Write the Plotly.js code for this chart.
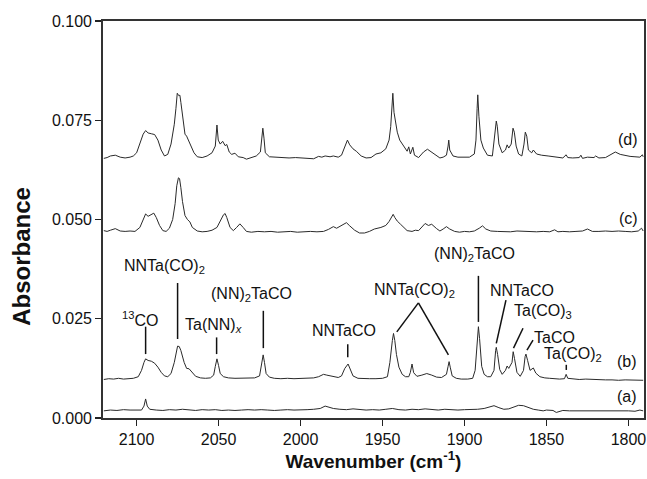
<!DOCTYPE html>
<html>
<head>
<meta charset="utf-8">
<script src="https://cdn.plot.ly/plotly-3.0.1.min.js"></script>
<style>html,body{margin:0;padding:0;background:#fff}#chart{width:647px;height:479px}</style>
</head>
<body>
<div id="chart"></div>
<script>
// ---- data ----
const wnA = [2120,2116,2112,2108,2104,2100,2097,2095.5,2094.5,2093.5,2092,2088,2084,2080,2076,2072,2068,2064,2060,2056,2052,2048,2044,2040,2036,2032,2028,2024,2020,2016,2012,2008,2004,2000,1996,1992,1988,1985,1983,1980,1976,1972,1968,1964,1960,1956,1952,1948,1944,1940,1936,1932,1928,1924,1920,1916,1912,1908,1904,1900,1896,1892,1888,1885,1882,1879,1876,1873,1870,1867,1864,1861,1858,1855,1852,1850,1846,1844,1840,1836,1832,1828,1824,1820,1816,1812,1808,1804,1800,1796,1793,1791];
const absA = [0.0018,0.0020,0.0019,0.0021,0.0020,0.0019,0.0020,0.0030,0.0048,0.0030,0.0022,0.0020,0.0019,0.0021,0.0020,0.0022,0.0020,0.0019,0.0021,0.0020,0.0021,0.0019,0.0020,0.0019,0.0020,0.0021,0.0020,0.0021,0.0020,0.0019,0.0020,0.0021,0.0020,0.0020,0.0021,0.0022,0.0024,0.0030,0.0028,0.0024,0.0022,0.0021,0.0023,0.0021,0.0020,0.0021,0.0020,0.0022,0.0024,0.0021,0.0020,0.0022,0.0021,0.0023,0.0021,0.0020,0.0022,0.0021,0.0020,0.0021,0.0021,0.0022,0.0024,0.0028,0.0031,0.0026,0.0022,0.0023,0.0028,0.0032,0.0031,0.0027,0.0022,0.0020,0.0018,0.0020,0.0019,0.0014,0.0019,0.0018,0.0018,0.0019,0.0018,0.0019,0.0018,0.0018,0.0019,0.0018,0.0018,0.0017,0.0020,0.0018];

const wnB = [2120,2117,2114,2111,2108,2105,2102,2099,2097,2095.5,2094.5,2093,2091,2089,2087,2085,2083,2081,2079,2077,2075.5,2075,2074,2073,2071,2069.5,2068,2066,2064,2061,2058,2055,2053,2052,2051,2050,2049,2047,2044,2040,2036,2032,2028,2025,2023.8,2022.8,2022,2021,2019,2016,2012,2008,2004,2000,1996,1992,1989,1986,1984,1982,1980,1977,1975,1973,1971,1969.5,1968,1965,1962,1958,1954,1950,1947,1945.5,1944,1943.3,1942.5,1941.5,1940,1938,1936,1934,1933,1932,1931,1929,1926,1923,1920,1917,1914,1911,1910,1909.4,1908.7,1907.5,1905,1902,1898,1895,1893.5,1892.2,1891.5,1890.8,1889.5,1888,1886,1884,1882,1881,1880.6,1879.8,1878.5,1877,1875,1874,1873,1871,1870.3,1869.5,1868,1866,1864,1863,1862.5,1861.5,1860,1858,1856.5,1854,1851,1848,1845,1842,1839,1838,1837,1834,1830,1826,1822,1818,1814,1810,1806,1802,1798,1794,1791];
const absB = [0.0097,0.0099,0.0098,0.0100,0.0098,0.0099,0.0100,0.0104,0.0120,0.0140,0.0149,0.0145,0.0143,0.0138,0.0128,0.0115,0.0106,0.0104,0.0112,0.0140,0.0175,0.0181,0.0180,0.0170,0.0140,0.0125,0.0124,0.0113,0.0105,0.0101,0.0100,0.0101,0.0108,0.0130,0.0149,0.0132,0.0112,0.0104,0.0101,0.0100,0.0100,0.0101,0.0101,0.0106,0.0135,0.0159,0.0140,0.0112,0.0103,0.0100,0.0099,0.0100,0.0099,0.0100,0.0100,0.0101,0.0104,0.0110,0.0108,0.0106,0.0104,0.0102,0.0106,0.0125,0.0136,0.0122,0.0106,0.0100,0.0099,0.0099,0.0099,0.0100,0.0104,0.0140,0.0195,0.0213,0.0195,0.0160,0.0128,0.0110,0.0104,0.0104,0.0115,0.0136,0.0114,0.0105,0.0108,0.0112,0.0108,0.0103,0.0102,0.0110,0.0130,0.0142,0.0128,0.0106,0.0100,0.0098,0.0098,0.0100,0.0120,0.0200,0.0230,0.0200,0.0130,0.0110,0.0104,0.0104,0.0120,0.0170,0.0178,0.0160,0.0122,0.0110,0.0120,0.0131,0.0125,0.0140,0.0167,0.0150,0.0115,0.0105,0.0120,0.0155,0.0161,0.0145,0.0120,0.0126,0.0113,0.0104,0.0101,0.0100,0.0099,0.0098,0.0099,0.0110,0.0100,0.0099,0.0097,0.0098,0.0097,0.0097,0.0096,0.0096,0.0095,0.0096,0.0095,0.0094,0.0095];

const wnC = [2120,2118,2116,2113,2110,2107,2104,2101,2098,2096,2094.5,2093,2091.5,2089.5,2088,2086,2084,2082,2080,2078,2076.5,2075.5,2074.5,2073.8,2073,2072,2070.5,2069,2067.5,2066,2063,2060,2057,2054,2051,2049,2047,2046,2045,2043,2041,2039,2037,2035,2033,2030,2026,2022,2018,2014,2010,2006,2002,1998,1994,1990,1986,1983,1980,1978,1975,1972,1970,1967,1964,1961,1958,1955,1951,1948,1946,1944.5,1943.5,1942.5,1941,1939,1937,1935,1932,1930,1928,1926,1924,1922,1920,1917,1915,1913,1911,1909,1906,1903,1900,1897,1894,1891,1889,1887,1884,1880,1876,1872,1868,1864,1860,1856,1852,1848,1845,1843,1840,1836,1832,1828,1825,1822,1818,1814,1810,1806,1802,1798,1794,1792,1791];
const absC = [0.0472,0.0470,0.0473,0.0477,0.0471,0.0470,0.0471,0.0470,0.0480,0.0500,0.0514,0.0508,0.0512,0.0516,0.0505,0.0485,0.0472,0.0470,0.0478,0.0500,0.0540,0.0585,0.0605,0.0603,0.0580,0.0545,0.0510,0.0500,0.0494,0.0480,0.0471,0.0469,0.0470,0.0473,0.0480,0.0495,0.0512,0.0515,0.0505,0.0480,0.0472,0.0480,0.0489,0.0480,0.0470,0.0468,0.0470,0.0469,0.0470,0.0468,0.0469,0.0470,0.0468,0.0469,0.0470,0.0469,0.0470,0.0475,0.0482,0.0478,0.0485,0.0492,0.0484,0.0473,0.0466,0.0466,0.0470,0.0476,0.0480,0.0485,0.0495,0.0505,0.0513,0.0505,0.0496,0.0488,0.0480,0.0472,0.0470,0.0473,0.0472,0.0480,0.0490,0.0485,0.0488,0.0477,0.0471,0.0476,0.0482,0.0476,0.0470,0.0468,0.0470,0.0469,0.0471,0.0478,0.0484,0.0476,0.0471,0.0470,0.0469,0.0469,0.0471,0.0470,0.0470,0.0469,0.0470,0.0469,0.0474,0.0469,0.0470,0.0469,0.0470,0.0471,0.0476,0.0470,0.0470,0.0471,0.0470,0.0471,0.0470,0.0469,0.0471,0.0478,0.0471];

const wnD = [2120,2118,2116,2113,2110,2107,2104,2102,2100,2098,2096,2094.5,2093,2091,2089,2087,2085,2083,2081,2079,2077,2076,2075.2,2074.3,2073.6,2073,2072,2070.5,2069.5,2068.5,2067,2065,2063,2060,2057,2054,2052,2051,2050.2,2049,2047.5,2046,2045,2043.5,2042,2040,2038,2035,2033,2030,2027,2024.5,2023.6,2023,2022.3,2021.5,2019,2015,2011,2007,2003,1999,1995,1992,1989,1987,1985,1982,1980,1977,1975,1973,1971.4,1970,1968,1966,1963,1960,1957,1954,1951,1948,1946,1945,1944.2,1943.7,1943,1942,1941,1939.5,1937,1935,1934,1933,1931.5,1930.5,1928,1925,1922.6,1920,1917,1915,1913,1911,1910,1909.6,1909,1907,1904,1900,1897,1894,1893,1892.3,1891.9,1891.2,1890,1888.5,1886,1883,1881.8,1881,1880.6,1880,1879,1877,1875,1874,1873,1871.5,1870.4,1869.6,1868.5,1867,1865,1863.7,1862.9,1862,1861,1859,1858,1856,1853,1849,1846,1843,1840,1838,1837,1834,1830,1829,1828,1825,1821,1820,1818,1814,1811,1808,1805,1802,1799,1796,1793,1791.5,1791];
const absD = [0.0654,0.0656,0.0660,0.0662,0.0657,0.0655,0.0657,0.0660,0.0668,0.0690,0.0715,0.0724,0.0718,0.0716,0.0714,0.0700,0.0675,0.0660,0.0664,0.0690,0.0740,0.0780,0.0818,0.0812,0.0813,0.0795,0.0760,0.0715,0.0710,0.0700,0.0685,0.0668,0.0658,0.0656,0.0660,0.0668,0.0685,0.0738,0.0700,0.0690,0.0697,0.0686,0.0689,0.0670,0.0664,0.0667,0.0658,0.0656,0.0652,0.0657,0.0660,0.0670,0.0710,0.0730,0.0705,0.0668,0.0658,0.0657,0.0656,0.0655,0.0656,0.0655,0.0655,0.0653,0.0659,0.0657,0.0660,0.0658,0.0660,0.0657,0.0662,0.0685,0.0700,0.0688,0.0678,0.0672,0.0660,0.0655,0.0656,0.0665,0.0668,0.0678,0.0700,0.0734,0.0790,0.0818,0.0770,0.0747,0.0720,0.0700,0.0683,0.0672,0.0683,0.0665,0.0682,0.0662,0.0656,0.0670,0.0677,0.0670,0.0660,0.0655,0.0657,0.0662,0.0685,0.0700,0.0675,0.0660,0.0657,0.0658,0.0657,0.0665,0.0700,0.0780,0.0814,0.0760,0.0700,0.0680,0.0662,0.0660,0.0700,0.0740,0.0748,0.0735,0.0690,0.0668,0.0675,0.0688,0.0680,0.0690,0.0730,0.0720,0.0685,0.0665,0.0660,0.0690,0.0720,0.0710,0.0675,0.0668,0.0675,0.0665,0.0662,0.0660,0.0658,0.0656,0.0655,0.0663,0.0656,0.0655,0.0656,0.0662,0.0654,0.0657,0.0656,0.0660,0.0655,0.0656,0.0664,0.0670,0.0664,0.0661,0.0659,0.0658,0.0657,0.0663,0.0658];

const traceLabels = ['(a)','(b)','(c)','(d)'];
const traceLabelPos = [[1800.9,0.0054],[1800.9,0.0142],[1800,0.0503],[1800,0.0702]];

// peak labels: text, text position, leader lines [x0,y0,x1,y1]
const peakTexts = ['<sup>13</sup>CO','NNTa(CO)<sub>2</sub>','Ta(NN)<sub><i>x</i></sub>','(NN)<sub>2</sub>TaCO','NNTaCO','NNTa(CO)<sub>2</sub>','(NN)<sub>2</sub>TaCO','NNTaCO','Ta(CO)<sub>3</sub>','TaCO','Ta(CO)<sub>2</sub>'];
const peakTextPos = [[2098,0.0249],[2082.7,0.0382],[2052.8,0.0234],[2030.2,0.0312],[1973.4,0.0220],[1930.7,0.0322],[1894,0.0413],[1865,0.0322],[1852,0.0268],[1845.3,0.0203],[1834,0.0161]];
const leaderLines = [
  [2094.5,0.0230,2094.5,0.0161],
  [2075.0,0.0340,2075.0,0.0199],
  [2051.2,0.0203,2051.2,0.0161],
  [2022.7,0.0270,2022.7,0.0176],
  [1971.2,0.0186,1971.2,0.0153],
  [1928.1,0.0290,1941.3,0.0217],
  [1928.1,0.0290,1909.8,0.0159],
  [1891.5,0.0358,1891.5,0.0242],
  [1874.7,0.0297,1880.6,0.0188],
  [1864.3,0.0226,1870.1,0.0176],
  [1858.2,0.0196,1861.9,0.0171],
  [1837.9,0.0134,1837.9,0.0121]
];

const FONT = 'Liberation Sans, Arial, sans-serif';
const lineCol = '#2a2a2a';

const traces = [[wnA,absA],[wnB,absB],[wnC,absC],[wnD,absD]].map(([x,y]) => ({
  x: x, y: y, type: 'scatter', mode: 'lines',
  line: {color: lineCol, width: 1}, hoverinfo: 'skip', showlegend: false
}));

const annotations = [];
traceLabels.forEach((t,i) => annotations.push({x: traceLabelPos[i][0], y: traceLabelPos[i][1], xref:'x', yref:'y', text: t, showarrow:false, font:{family:FONT,size:16,color:'#111'}}));
peakTexts.forEach((t,i) => annotations.push({x: peakTextPos[i][0], y: peakTextPos[i][1], xref:'x', yref:'y', text: t, showarrow:false, font:{family:FONT,size:16,color:'#111'}}));
// y-axis title (placed as in the reference, slightly below the plot centre)
annotations.push({xref:'paper', yref:'paper', x: -0.152, y: 0.408, xanchor:'center', yanchor:'middle', textangle: -90,
  text: '<b>Absorbance</b>', showarrow:false, font:{family:FONT, size:24, color:'#111'}});

const shapes = leaderLines.map(l => ({type:'line', xref:'x', yref:'y', x0:l[0], y0:l[1], x1:l[2], y1:l[3], line:{color:'#111', width:1.5}}));

const layout = {
  width: 647, height: 479,
  margin: {l: 103, r: 3, t: 21, b: 61},
  paper_bgcolor: '#fff', plot_bgcolor: '#fff',
  font: {family: FONT, color: '#111'},
  xaxis: {
    range: [2120.5, 1790.5], dtick: 50, tick0: 1800,
    ticks: 'outside', ticklen: 6, tickwidth: 1.3, tickcolor: '#222',
    showline: true, mirror: true, linecolor: '#333', linewidth: 1.8,
    showgrid: false, zeroline: false,
    tickfont: {family: FONT, size: 16, color: '#111'},
    title: {text: '<b>Wavenumber (cm<sup>-1</sup>)</b>', font: {family: FONT, size: 19, color: '#111'}, standoff: 5}
  },
  yaxis: {
    range: [0, 0.1], dtick: 0.025, tickformat: '.3f',
    ticks: 'outside', ticklen: 6, tickwidth: 1.3, tickcolor: '#222',
    showline: true, mirror: true, linecolor: '#333', linewidth: 1.8,
    showgrid: false, zeroline: false,
    tickfont: {family: FONT, size: 16, color: '#111'}
  },
  annotations: annotations,
  shapes: shapes
};

Plotly.newPlot('chart', traces, layout, {staticPlot: true, displayModeBar: false});
</script>
</body>
</html>
